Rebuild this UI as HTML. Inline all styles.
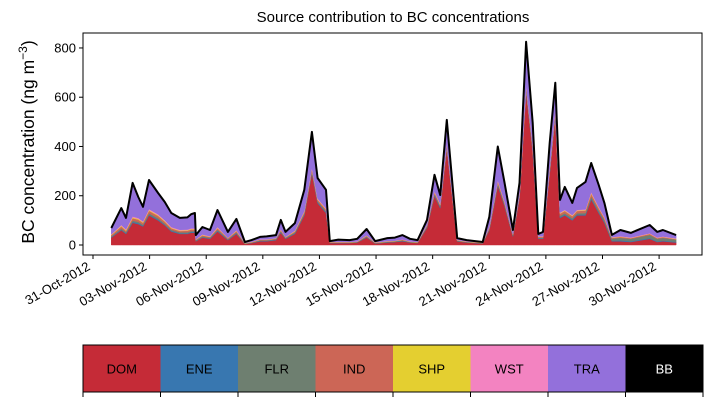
<!DOCTYPE html>
<html><head><meta charset="utf-8"><style>
body{margin:0;background:#fff;width:713px;height:402px;overflow:hidden;font-family:"Liberation Sans",sans-serif}
svg text{font-family:"Liberation Sans",sans-serif}
</style></head><body>
<svg id="c" width="713" height="402"></svg>
<script>
const days=[0.97,1.5,1.75,2.1,2.4,2.65,2.97,3.45,3.8,4.15,4.6,5.0,5.2,5.4,5.45,5.8,6.2,6.6,7.15,7.6,8.05,8.4,8.85,9.2,9.7,9.95,10.2,10.7,11.2,11.6,11.9,12.35,12.55,13.0,13.6,14.0,14.5,14.95,15.6,16.0,16.4,16.8,17.2,17.7,18.1,18.4,18.75,19.3,19.8,20.65,21.0,21.45,21.8,22.25,22.6,22.95,23.3,23.6,23.85,24.2,24.5,24.75,25.0,25.4,25.65,26.1,26.4,26.8,27.1,27.5,27.95,28.5,29.5,29.9,30.2,30.9];
const total=[69,150,110,252,195,155,264,211,175,130,110,112,125,130,40,73,61,142,53,106,12,20,33,35,40,102,53,89,224,459,272,224,16,22,20,25,65,16,28,30,40,25,20,102,285,203,508,28,20,12,114,400,256,61,252,825,496,45,53,415,659,183,236,171,232,256,333,244,171,41,61,49,81,53,61,40];
const dom=[30,60,45,90,85,75,120,100,80,55,45,45,50,50,15,30,25,55,20,45,4,8,15,15,20,50,25,45,120,290,170,130,8,8,8,10,30,6,10,12,15,10,8,70,200,150,390,15,10,6,60,240,160,35,190,620,380,25,25,290,520,110,120,100,120,120,185,130,90,15,15,12,25,12,15,10];
const ene=[2,3,3,4,4,3,4,4,3,3,3,3,3,3,2,2,2,3,2,3,1,1,2,2,2,3,2,3,4,5,4,4,1,1,1,1,2,1,1,1,2,1,1,3,4,4,5,1,1,1,3,5,4,2,4,6,5,2,2,5,6,4,4,4,4,4,5,4,4,3,4,3,4,3,3,3];
const flr=[3,4,4,5,5,4,5,5,4,4,4,4,4,4,2,3,3,4,2,3,1,1,2,2,2,3,2,3,4,5,4,4,1,1,1,1,2,1,2,2,2,1,1,3,4,4,5,2,1,1,3,5,4,3,4,6,5,3,3,5,6,5,5,5,5,6,7,7,7,8,10,10,12,10,11,9];
const ind=[5,8,6,10,9,8,10,9,8,6,5,6,6,6,2,4,3,6,3,5,1,1,2,2,2,4,2,4,6,8,6,6,1,1,1,1,3,1,1,1,2,1,1,3,6,5,8,1,1,1,4,7,6,3,6,10,8,3,3,8,10,8,9,8,9,10,11,9,8,3,4,3,4,3,3,2];
const shp=[2,3,3,3,3,3,3,3,3,2,2,2,2,2,1,2,1,2,1,2,1,1,1,1,1,2,1,2,2,3,2,2,1,1,1,1,1,1,1,1,1,1,1,2,2,2,3,1,1,1,2,3,2,1,2,3,3,1,1,3,3,2,2,2,2,2,3,2,2,1,1,1,1,1,1,1];
const wst=[2,3,3,4,4,3,4,4,3,3,3,3,3,3,1,2,2,3,1,2,1,1,1,1,1,2,1,2,3,4,3,3,1,1,1,1,1,1,1,1,1,1,1,2,3,3,4,1,1,1,2,4,3,2,3,5,4,2,2,4,5,3,3,3,3,3,4,3,3,2,2,2,2,2,2,2];
const yTicks=[0,200,400,600,800];
const xTickLabels=["31-Oct-2012","03-Nov-2012","06-Nov-2012","09-Nov-2012","12-Nov-2012","15-Nov-2012","18-Nov-2012","21-Nov-2012","24-Nov-2012","27-Nov-2012","30-Nov-2012"];
const sources=["DOM","ENE","FLR","IND","SHP","WST","TRA","BB"];
const colors=["#c52b37","#3877b0","#6e7f70","#cc6656","#e4cf30","#f383c1","#9370db","#000000"];

const NS="http://www.w3.org/2000/svg";
const svg=document.getElementById('c');
function mk(t,a,p){const e=document.createElementNS(NS,t);for(const k in a)e.setAttribute(k,a[k]);(p||svg).appendChild(e);return e;}
const L=83,R=702,T=33,B=255;
const X=d=>93+d*18.87;
const Y=v=>245-v*0.2463;

const lay=[dom,ene,flr,ind,shp,wst];
const names=["dom","ene","flr","ind","shp","wst","tra"];
let base=days.map(()=>0);
const tra=total.map((t,i)=>Math.max(0,t-lay.reduce((s,a)=>s+(a[i]||0),0)));
const all=[...lay,tra];
all.forEach((arr,k)=>{
  const top=base.map((b,i)=>b+(arr[i]||0));
  let d="M"+days.map((x,i)=>X(x).toFixed(1)+","+Y(top[i]).toFixed(1)).join("L");
  for(let i=days.length-1;i>=0;i--)d+="L"+X(days[i]).toFixed(1)+","+Y(base[i]).toFixed(1);
  const p=mk('path',{d:d+"Z",fill:colors[k],stroke:colors[k],'stroke-width':0.5});
  
  
  base=top;
});
const tl=mk('polyline',{points:days.map((x,i)=>X(x).toFixed(1)+","+Y(total[i]).toFixed(1)).join(" "),fill:"none",stroke:"#000","stroke-width":2,"stroke-linejoin":"round"});



const ax=mk('rect',{x:L,y:T,width:R-L,height:B-T,fill:"none",stroke:"#000","stroke-width":1});



yTicks.forEach(v=>{
  mk('line',{x1:L-4,x2:L,y1:Y(v),y2:Y(v),stroke:"#000"});
  const t=mk('text',{x:L-7,y:Y(v)+4.5,'text-anchor':'end','font-size':13});
  t.textContent=v;
  
  
});
xTickLabels.forEach((s,i)=>{
  const x=X(i*3);
  mk('line',{x1:x,x2:x,y1:B,y2:B+4,stroke:"#000"});
  const t=mk('text',{x:x-2,y:B+14,'text-anchor':'end','font-size':13,transform:`rotate(-30 ${x-2} ${B+14})`});
  t.textContent=s;
  
  
});
const title=mk('text',{x:393,y:22,'text-anchor':'middle','font-size':15});
title.textContent="Source contribution to BC concentrations";


const yl=mk('text',{x:34,y:142,'text-anchor':'middle','font-size':17.5,transform:'rotate(-90 34 142)'});
yl.innerHTML='BC concentration (ng m<tspan dy="-7" font-size="12">−3</tspan><tspan dy="7">)</tspan>';



const cx0=83,cw=(703-83)/8,cy=345,ch=47;
sources.forEach((s,i)=>{
  const r=mk('rect',{x:cx0+i*cw,y:cy,width:cw+0.5,height:ch,fill:colors[i]});
  
  
  const t=mk('text',{x:cx0+i*cw+cw/2,y:cy+ch/2+5,'text-anchor':'middle','font-size':13,fill:s==="BB"?"#fff":"#000"});
  t.textContent=s;
  
  
});
for(let i=0;i<=8;i++){const x=cx0+i*cw;mk('line',{x1:x,x2:x,y1:cy+ch,y2:cy+ch+5,stroke:"#000"});}
const cb=mk('rect',{x:cx0,y:cy,width:620,height:ch,fill:"none",stroke:"#000","stroke-width":1});


</script>
</body></html>
